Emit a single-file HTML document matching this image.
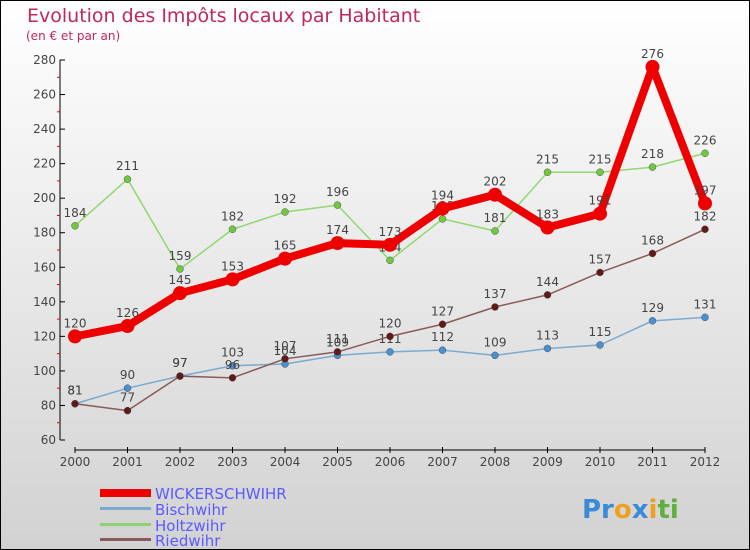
<!DOCTYPE html>
<html><head><meta charset="utf-8"><style>
body{margin:0}
svg{display:block;font-family:"DejaVu Sans","Liberation Sans",sans-serif}
</style></head><body>
<svg id="c" width="750" height="550" xmlns="http://www.w3.org/2000/svg">
<defs><linearGradient id="bg" x1="0" y1="0" x2="0" y2="1"><stop offset="0" stop-color="#ffffff"/><stop offset="1" stop-color="#d2d2d2"/></linearGradient></defs>
<rect x="0.5" y="0.5" width="749" height="549" fill="url(#bg)" stroke="#000"/>
<text x="27" y="22" font-size="19" fill="#c0285a">Evolution des Impôts locaux par Habitant</text>
<text x="26" y="40" font-size="12" fill="#c0285a">(en € et par an)</text>
<g id="axes"></g><g id="series"></g>
<g>
<rect x="100" y="489" width="51" height="8" fill="#e00"/>
<text x="155" y="499" font-size="15" fill="#5a5aff">WICKERSCHWIHR</text>
<rect x="100" y="507" width="51" height="3" fill="#7aaad0"/>
<text x="155" y="515" font-size="15" fill="#5a5aff">Bischwihr</text>
<rect x="100" y="523" width="51" height="3" fill="#8fd070"/>
<text x="155" y="531" font-size="15" fill="#5a5aff">Holtzwihr</text>
<rect x="100" y="538" width="51" height="3" fill="#8a5a5a"/>
<text x="155" y="546" font-size="15" fill="#5a5aff">Riedwihr</text>
</g>
<text x="582" y="518" font-size="26" font-weight="bold"><tspan fill="#3a8ad8">Pr</tspan><tspan fill="#f0a020">o</tspan><tspan fill="#3a8ad8">x</tspan><tspan fill="#f0a020">i</tspan><tspan fill="#60b040">ti</tspan></text>
</svg>
<script>
const years=[2000,2001,2002,2003,2004,2005,2006,2007,2008,2009,2010,2011,2012];
const wicker=[120,126,145,153,165,174,173,194,202,183,191,276,197];
const bisch=[81,90,97,103,104,109,111,112,109,113,115,129,131];
const holtz=[184,211,159,182,192,196,164,188,181,215,215,218,226];
const ried=[81,77,97,96,107,111,120,127,137,144,157,168,182];
const yTicks=[60,80,100,120,140,160,180,200,220,240,260,280];
const NS="http://www.w3.org/2000/svg";
const xs=i=>75+i*52.5, ys=v=>440-(v-60)*380/220;
function mk(t,a,p){const e=document.createElementNS(NS,t);for(const k in a)e.setAttribute(k,a[k]);p.appendChild(e);return e;}
const ax=document.getElementById('axes');
let l=mk('line',{x1:60,y1:ys(280),x2:60,y2:ys(60),stroke:'#000'},ax);


yTicks.forEach(v=>{
 mk('line',{x1:60,y1:ys(v),x2:65,y2:ys(v),stroke:'#000'},ax);
 if(v<280)mk('line',{x1:57,y1:ys(v+10),x2:60,y2:ys(v+10),stroke:'#e00'},ax);
 const t=mk('text',{x:56,y:ys(v)+4,'font-size':12,fill:'#444','text-anchor':'end'},ax);t.textContent=v;
 
 
});
l=mk('line',{x1:75,y1:450,x2:705,y2:450,stroke:'#000'},ax);


years.forEach((y,i)=>{
 mk('line',{x1:xs(i),y1:447,x2:xs(i),y2:453,stroke:'#000'},ax);
 const t=mk('text',{x:xs(i),y:466,'font-size':12,fill:'#444','text-anchor':'middle'},ax);t.textContent=y;
 
 
});
const sg=document.getElementById('series');
function series(vals,name,col,w,r,dot){
 const g=mk('g',{},sg);
 
 
 mk('polyline',{points:vals.map((v,i)=>xs(i)+','+ys(v)).join(' '),fill:'none',stroke:col,'stroke-width':w,'stroke-linejoin':'round'},g);
 vals.forEach((v,i)=>{
  const c=mk('circle',{cx:xs(i),cy:ys(v),r:r,fill:dot,stroke:name=='wickerschwihr'?'none':'#555','stroke-width':0.5},g);
  
  
  const t=mk('text',{x:xs(i),y:ys(v)-9,'font-size':12,fill:'#444','text-anchor':'middle'},g);t.textContent=v;
  
  
 });
}
series(bisch,'bischwihr','#7aaad0',1.5,3.5,'#4a90d0');
series(holtz,'holtzwihr','#90d870',1.5,3.5,'#70c840');
series(ried,'riedwihr','#8a5a5a',1.5,3.5,'#601818');
series(wicker,'wickerschwihr','#ee0000',8,7,'#ee0000');
</script>
</body></html>
